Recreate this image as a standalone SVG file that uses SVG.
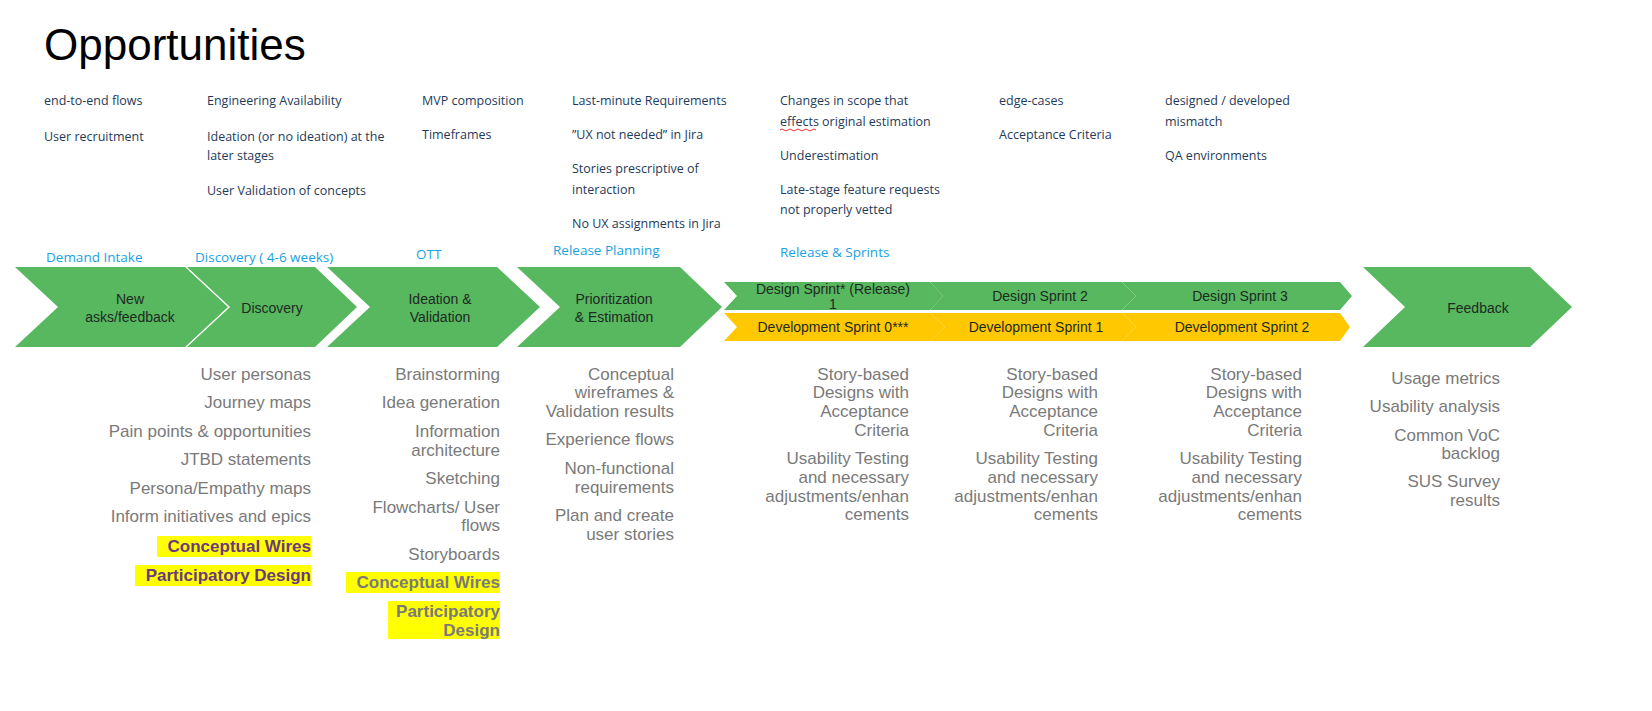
<svg xmlns="http://www.w3.org/2000/svg" width="1652" height="711" viewBox="0 0 1652 711">
<style>
.n{font-family:"Open Sans","Liberation Sans",sans-serif;font-size:12.5px;fill:#1F3B5A}
.ph{font-family:"Open Sans","Liberation Sans",sans-serif;font-size:13.5px;fill:#1BA1E2}
.g{fill:#57B85F}
.y{fill:#FFC800}
.ct{font-family:"Liberation Sans",sans-serif;font-size:14px;fill:#1E2A22;text-anchor:middle}
.l{font-family:"Liberation Sans",sans-serif;font-size:17px;fill:#7A7A7A;text-anchor:end}
.hp{font-family:"Liberation Sans",sans-serif;font-size:17px;font-weight:bold;fill:#6B3A7E;text-anchor:end}
.hg{font-family:"Liberation Sans",sans-serif;font-size:17px;font-weight:bold;fill:#7A7A7A;text-anchor:end}
.hl{fill:#FFFF00}
</style>
<rect width="1652" height="711" fill="#fff"/>
<text x="44" y="60" font-family="Liberation Sans,sans-serif" font-size="44" fill="#000">Opportunities</text>
<g id="notes">
<text class="n" x="44" y="105">end-to-end flows</text>
<text class="n" x="44" y="141">User recruitment</text>
<text class="n" x="207" y="105">Engineering Availability</text>
<text class="n" x="207" y="141">Ideation (or no ideation) at the</text>
<text class="n" x="207" y="160">later stages</text>
<text class="n" x="207" y="195">User Validation of concepts</text>
<text class="n" x="422" y="105">MVP composition</text>
<text class="n" x="422" y="139">Timeframes</text>
<text class="n" x="572" y="105">Last-minute Requirements</text>
<text class="n" x="572" y="139">”UX not needed” in Jira</text>
<text class="n" x="572" y="173"> Stories prescriptive of</text>
<text class="n" x="572" y="194">interaction</text>
<text class="n" x="572" y="228">No UX assignments in Jira</text>
<text class="n" x="780" y="105">Changes in scope that</text>
<text class="n" x="780" y="126">effects original estimation</text>
<path d="M780,130 q2,-2 4,0 t4,0 t4,0 t4,0 t4,0 t4,0 t4,0 t4,0 t4,0" fill="none" stroke="#E03030" stroke-width="1"/>
<text class="n" x="780" y="160">Underestimation</text>
<text class="n" x="780" y="194">Late-stage feature requests</text>
<text class="n" x="780" y="214">not properly vetted</text>
<text class="n" x="999" y="105">edge-cases</text>
<text class="n" x="999" y="139">Acceptance Criteria</text>
<text class="n" x="1165" y="105">designed / developed</text>
<text class="n" x="1165" y="126">mismatch</text>
<text class="n" x="1165" y="160">QA environments</text>
</g>
<g id="phases">
<text class="ph" x="46" y="262">Demand Intake</text>
<text class="ph" x="195" y="262">Discovery ( 4-6 weeks)</text>
<text class="ph" x="416" y="259">OTT</text>
<text class="ph" x="553" y="255">Release Planning</text>
<text class="ph" x="780" y="257">Release &amp; Sprints</text>
</g>
<g id="connectors"></g>
<g id="node-new">
<polygon class="g" points="15,267 185,267 228,307 185,347 15,347 58,307"/>
<text class="ct" x="130" y="304">New</text><text class="ct" x="130" y="322">asks/feedback</text>
</g>
<g id="node-discovery">
<polygon class="g" points="187,267 315,267 357,307 315,347 187,347 230,307"/>
<text class="ct" x="272" y="313">Discovery</text>
</g>
<g id="node-ideation">
<polygon class="g" points="327,267 497,267 540,307 497,347 327,347 370,307"/>
<text class="ct" x="440" y="304">Ideation &amp;</text><text class="ct" x="440" y="322">Validation</text>
</g>
<g id="node-prioritization">
<polygon class="g" points="517,267 680,267 722,307 680,347 517,347 560,307"/>
<text class="ct" x="614" y="304">Prioritization</text><text class="ct" x="614" y="322">&amp; Estimation</text>
</g>
<g id="node-design1">
<polygon class="g" points="724,282 930,282 943,296 930,310 724,310 737,296"/>
<text class="ct" x="833" y="294">Design Sprint* (Release)</text><text class="ct" x="833" y="309">1</text>
</g>
<g id="node-design2">
<polygon class="g" points="930,282 1122,282 1136,296 1122,310 930,310 943,296"/>
<text class="ct" x="1040" y="301">Design Sprint 2</text>
</g>
<g id="node-design3">
<polygon class="g" points="1122,282 1340,282 1352,296 1340,310 1122,310 1136,296"/>
<text class="ct" x="1240" y="301">Design Sprint 3</text>
</g>
<g id="node-dev0">
<polygon class="y" points="724,313 930,313 945,327 930,341 724,341 737,327"/>
<text class="ct" x="833" y="332">Development Sprint 0***</text>
</g>
<g id="node-dev1">
<polygon class="y" points="930,313 1122,313 1136,327 1122,341 930,341 945,327"/>
<text class="ct" x="1036" y="332">Development Sprint 1</text>
</g>
<g id="node-dev2">
<polygon class="y" points="1122,313 1340,313 1350,327 1340,341 1122,341 1136,327"/>
<text class="ct" x="1242" y="332">Development Sprint 2</text>
</g>
<g id="node-feedback">
<polygon class="g" points="1363,267 1530,267 1572,307 1530,347 1363,347 1405,307"/>
<text class="ct" x="1478" y="313">Feedback</text>
</g>
<g id="list-discovery">
<text class="l" x="311" y="380">User personas</text>
<text class="l" x="311" y="408">Journey maps</text>
<text class="l" x="311" y="437">Pain points &amp; opportunities</text>
<text class="l" x="311" y="465">JTBD  statements</text>
<text class="l" x="311" y="494">Persona/Empathy maps</text>
<text class="l" x="311" y="522">Inform initiatives and epics</text>
<rect class="hl" x="157" y="536" width="154" height="21"/>
<text class="hp" x="311" y="552">Conceptual Wires</text>
<rect class="hl" x="135" y="565" width="176" height="21"/>
<text class="hp" x="311" y="581">Participatory Design</text>
</g>
<g id="list-ideation">
<text class="l" x="500" y="380">Brainstorming</text>
<text class="l" x="500" y="408">Idea generation</text>
<text class="l" x="500" y="437">Information</text>
<text class="l" x="500" y="456">architecture</text>
<text class="l" x="500" y="484">Sketching</text>
<text class="l" x="500" y="513">Flowcharts/ User</text>
<text class="l" x="500" y="531">flows</text>
<text class="l" x="500" y="560">Storyboards</text>
<rect class="hl" x="346" y="572" width="154" height="21"/>
<text class="hg" x="500" y="588">Conceptual Wires</text>
<rect class="hl" x="388" y="601" width="112" height="38"/>
<text class="hg" x="500" y="617">Participatory</text>
<text class="hg" x="500" y="636">Design</text>
</g>
<g id="list-prioritization">
<text class="l" x="674" y="380">Conceptual</text>
<text class="l" x="674" y="398">wireframes &amp;</text>
<text class="l" x="674" y="417">Validation results</text>
<text class="l" x="674" y="445">Experience flows</text>
<text class="l" x="674" y="474">Non-functional</text>
<text class="l" x="674" y="493">requirements</text>
<text class="l" x="674" y="521">Plan and create</text>
<text class="l" x="674" y="540">user stories</text>
</g>
<g id="list-sprint1">
<text class="l" x="909" y="380">Story-based</text>
<text class="l" x="909" y="398">Designs with</text>
<text class="l" x="909" y="417">Acceptance</text>
<text class="l" x="909" y="436">Criteria</text>
<text class="l" x="909" y="464">Usability Testing</text>
<text class="l" x="909" y="483">and necessary</text>
<text class="l" x="909" y="502">adjustments/enhan</text>
<text class="l" x="909" y="520">cements</text>
</g>
<g id="list-sprint2">
<text class="l" x="1098" y="380">Story-based</text>
<text class="l" x="1098" y="398">Designs with</text>
<text class="l" x="1098" y="417">Acceptance</text>
<text class="l" x="1098" y="436">Criteria</text>
<text class="l" x="1098" y="464">Usability Testing</text>
<text class="l" x="1098" y="483">and necessary</text>
<text class="l" x="1098" y="502">adjustments/enhan</text>
<text class="l" x="1098" y="520">cements</text>
</g>
<g id="list-sprint3">
<text class="l" x="1302" y="380">Story-based</text>
<text class="l" x="1302" y="398">Designs with</text>
<text class="l" x="1302" y="417">Acceptance</text>
<text class="l" x="1302" y="436">Criteria</text>
<text class="l" x="1302" y="464">Usability Testing</text>
<text class="l" x="1302" y="483">and necessary</text>
<text class="l" x="1302" y="502">adjustments/enhan</text>
<text class="l" x="1302" y="520">cements</text>
</g>
<g id="list-feedback">
<text class="l" x="1500" y="384">Usage metrics</text>
<text class="l" x="1500" y="412">Usability analysis</text>
<text class="l" x="1500" y="441">Common VoC</text>
<text class="l" x="1500" y="459">backlog</text>
<text class="l" x="1500" y="487">SUS Survey</text>
<text class="l" x="1500" y="506">results</text>
</g>
</svg>
